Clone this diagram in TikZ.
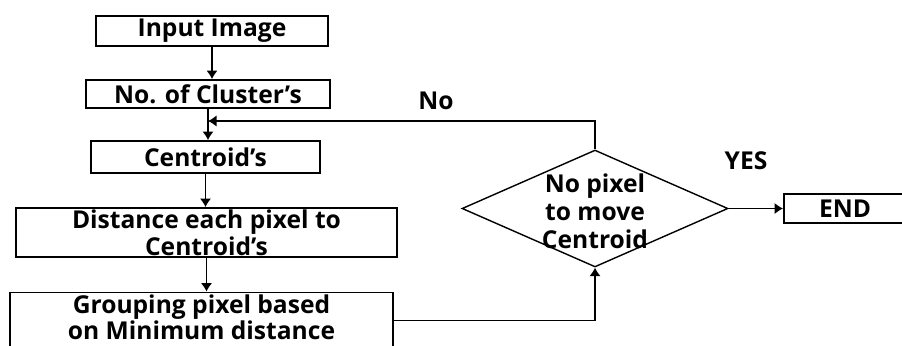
\documentclass[tikz,border=0pt]{standalone}
\usepackage{fontspec}
\setmainfont{Open Sans}
\usetikzlibrary{arrows.meta,shapes.geometric}

\begin{document}
\begin{tikzpicture}
	[x=0.02cm, y=-0.02cm,
	font=\bfseries\fontsize{14}{16}\selectfont,
	pbox/.style = {rectangle, draw, line width=1.1pt, inner sep=0, align=center},
	pdec/.style = {diamond, draw, line width=0.8pt, inner sep=0, minimum width=5.32cm, minimum height=2.34cm},
	post/.style = {-{Latex[length=1.7mm, width=2.3mm]}, line width=0.9pt}]
	\clip (0,0) rectangle (902,345);
	\node (inimg) [pbox, minimum width=4.64cm, minimum height=0.6cm] at (212,31) {Input Image};
	\node (ncl) [pbox, minimum width=4.88cm, minimum height=0.56cm] at (208,94) {No. of Cluster's};
	\node (cent) [pbox, minimum width=4.58cm, minimum height=0.64cm] at (205.5,157) {Centroid's};
	\node (dist) [pbox, minimum width=7.62cm, minimum height=0.98cm, font=\bfseries\fontsize{14}{15.5}\selectfont] at (206.5,232.5)
		{Distance each pixel to\\Centroid's};
	\node (grp) [pbox, minimum width=7.66cm, minimum height=1.12cm] at (201.5,320.5) {};
	\node (grptxt) [align=center, font=\bfseries\fontsize{14}{12.5}\selectfont] at (201.5,317.5)
		{Grouping pixel based\\on Minimum distance};
	% decision
	\node (chk) [pdec] at (595,208.5) {};
	\node (chktxt) [align=center, font=\bfseries\fontsize{14}{16}\selectfont] at (595,211) {No pixel\\to move\\Centroid};
	\node (fin) [pbox, minimum width=2.44cm, minimum height=0.58cm] at (845,208.5) {END};
	\node (lno) at (436,101) {No};
	\node (lyes) at (746,161) {YES};
	\coordinate (turn) at (595,121);
	% connectors
	\draw [post] (inimg.south) -- (inimg.south |- ncl.north);
	\draw [post] (ncl.south) -- (ncl.south |- cent.north);
	\draw [post] (cent.south) -- (cent.south |- dist.north);
	\draw [post] (dist.south) -- (dist.south |- grp.north);
	\draw [post] (grp.east) -| (chk.south);
	\draw [post] (chk.north) -- (chk.north |- turn) -- (ncl.south |- turn);
	\draw [post] (chk.east) -- (fin.west);
\end{tikzpicture}
\end{document}
